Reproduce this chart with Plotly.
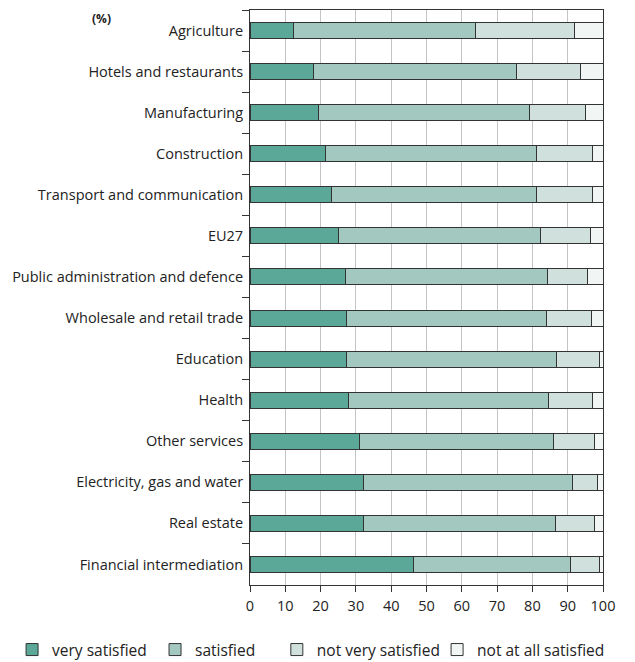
import plotly.graph_objects as go

categories = [
    "Agriculture", "Hotels and restaurants", "Manufacturing", "Construction",
    "Transport and communication", "EU27", "Public administration and defence",
    "Wholesale and retail trade", "Education", "Health", "Other services",
    "Electricity, gas and water", "Real estate", "Financial intermediation",
]
very_satisfied = [12.3, 18.0, 19.3, 21.4, 23.1, 25.1, 27.0, 27.2, 27.2, 27.8, 30.9, 32.2, 32.2, 46.2]
satisfied = [51.6, 57.5, 59.8, 59.9, 58.2, 57.2, 57.4, 56.8, 59.6, 56.9, 55.0, 59.1, 54.4, 44.6]
not_very_satisfied = [27.9, 18.1, 16.0, 15.6, 15.8, 14.1, 11.2, 12.7, 12.1, 12.2, 11.6, 7.1, 10.9, 8.3]
not_at_all_satisfied = [8.2, 6.4, 4.9, 3.1, 2.9, 3.6, 4.4, 3.3, 1.1, 3.1, 2.5, 1.6, 2.5, 0.9]

series_names = ["very satisfied", "satisfied", "not very satisfied", "not at all satisfied"]
series_values = [very_satisfied, satisfied, not_very_satisfied, not_at_all_satisfied]
colors = ["#5ba898", "#a2c8bf", "#d0e0dc", "#f1f5f4"]
x_ticks = list(range(0, 101, 10))

FONT = "Open Sans"
legend_ids = ["legend", "legend2", "legend3", "legend4"]
legend_x = [-0.674, -0.269, 0.076, 0.530]

fig = go.Figure()
for name, vals, col, lid in zip(series_names, series_values, colors, legend_ids):
    fig.add_trace(go.Bar(
        y=categories, x=vals, name=name, orientation="h",
        marker=dict(color=col, line=dict(color="#333333", width=1)),
        width=0.39, legend=lid,
    ))

legend_common = dict(
    orientation="h", xanchor="left", y=-0.113, yanchor="middle",
    font=dict(family=FONT, size=15.5, color="#222222"),
    bgcolor="rgba(0,0,0,0)", borderwidth=0,
)
legends = {lid: dict(legend_common, x=lx) for lid, lx in zip(legend_ids, legend_x)}

fig.update_layout(
    barmode="stack",
    width=627, height=654,
    margin=dict(l=242, r=32, t=2, b=77, autoexpand=False),
    paper_bgcolor="white", plot_bgcolor="white",
    font=dict(family=FONT, size=14, color="#222222"),
    showlegend=True,
    xaxis=dict(
        range=[0, 100], tickvals=x_ticks, ticktext=[str(t) for t in x_ticks],
        showgrid=True, gridcolor="#c4c4c4", gridwidth=1,
        showline=True, linecolor="#333333", linewidth=1, mirror=True,
        ticks="outside", ticklen=6, tickcolor="#333333", ticklabelstandoff=2,
        zeroline=False, tickfont=dict(size=14.5), automargin=False,
    ),
    yaxis=dict(
        categoryorder="array", categoryarray=categories, autorange="reversed",
        showline=True, linecolor="#333333", linewidth=1, mirror=True,
        ticks="outside", tickson="boundaries", ticklen=7, tickcolor="#333333",
        ticklabelstandoff=3,
        showgrid=False, tickfont=dict(size=14.5), automargin=False,
    ),
    **legends,
)
fig.add_annotation(
    text="<b>(%)</b>", xref="paper", yref="paper", x=-0.453, xanchor="left",
    y=1.0, yanchor="top", yshift=2, showarrow=False,
    font=dict(family=FONT, size=12, color="#222222"),
)
fig.write_html("out.html")
